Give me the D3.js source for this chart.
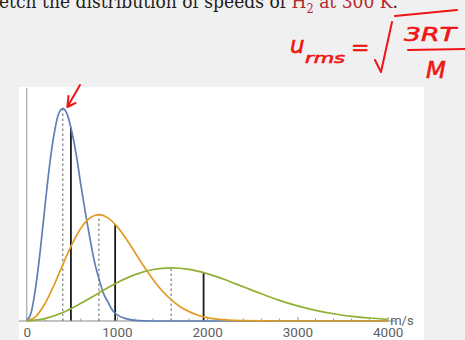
<!DOCTYPE html>
<html>
<head>
<meta charset="utf-8">
<script src="https://cdn.jsdelivr.net/npm/d3@7"></script>
<style>
  body { margin: 0; background: #f0f0f0; }
  svg { display: block; }
</style>
</head>
<body>
<div id="chart"></div>
<script>
// Speeds in m/s, densities relative to the tallest peak
var speedsBlue = [0, 50, 100, 150, 200, 250, 300, 350, 400, 450, 500, 550, 600, 650, 700, 750, 800, 850, 900, 950, 1000, 1100, 1200, 1400, 4000];
var densBlue = [0, 0.04, 0.16, 0.33, 0.53, 0.72, 0.87, 0.97, 1.0, 0.97, 0.89, 0.78, 0.64, 0.51, 0.39, 0.28, 0.2, 0.13, 0.09, 0.05, 0.03, 0.011, 0.003, 0, 0];

var speedsOrange = [0, 100, 200, 300, 400, 500, 600, 700, 800, 900, 1000, 1100, 1200, 1300, 1400, 1500, 1600, 1700, 1800, 1900, 2000, 2200, 2400, 2800, 4000];
var densOrange = [0, 0.021, 0.08, 0.166, 0.265, 0.359, 0.436, 0.484, 0.5, 0.485, 0.445, 0.388, 0.322, 0.256, 0.195, 0.142, 0.1, 0.067, 0.044, 0.027, 0.016, 0.005, 0.0015, 0, 0];

var speedsGreen = [0, 200, 400, 600, 800, 1000, 1200, 1400, 1600, 1800, 2000, 2200, 2400, 2600, 2800, 3000, 3200, 3400, 3600, 3800, 4000];
var densGreen = [0, 0.011, 0.04, 0.083, 0.132, 0.18, 0.218, 0.242, 0.25, 0.243, 0.223, 0.194, 0.161, 0.128, 0.097, 0.071, 0.05, 0.034, 0.022, 0.014, 0.008];

// most probable speed (dashed) and rms speed (solid) with curve heights there
var probSpeeds = [400, 800, 1600];
var probHeights = [1.0, 0.5, 0.25];
var rmsSpeeds = [490, 980, 1960];
var rmsHeights = [0.91, 0.455, 0.228];

var xTicks = [0, 1000, 2000, 3000, 4000];
var minorTicks = d3.range(200, 4000, 200).filter(d => d % 1000 != 0);

var width = 465, height = 340;

var svg = d3.select("#chart").append("svg")
    .attr("width", width)
    .attr("height", height);

// white plot panel
svg.append("rect")
    .attr("x", 19).attr("y", 87)
    .attr("width", 405).attr("height", 253)
    .attr("fill", "#ffffff");

var x = d3.scaleLinear().domain([0, 4000]).range([26.7, 387.7]);
var y = d3.scaleLinear().domain([0, 1]).range([321, 108.3]);

// y axis line
svg.append("line")
    .attr("x1", x(0)).attr("x2", x(0))
    .attr("y1", 88).attr("y2", y(0))
    .attr("stroke", "#b4b4b4").attr("stroke-width", 1.5);

// vertical markers
svg.selectAll(".prob").data(probSpeeds).enter().append("line")
    .attr("class", "prob")
    .attr("x1", d => x(d)).attr("x2", d => x(d))
    .attr("y1", y(0)).attr("y2", (d, i) => y(probHeights[i]))
    .attr("stroke", "#666").attr("stroke-width", 1)
    .attr("stroke-dasharray", "2.5,2.5");

svg.selectAll(".rms").data(rmsSpeeds).enter().append("line")
    .attr("class", "rms")
    .attr("x1", d => x(d)).attr("x2", d => x(d))
    .attr("y1", y(0)).attr("y2", (d, i) => y(rmsHeights[i]))
    .attr("stroke", "#1a1a1a").attr("stroke-width", 1.8);

// x axis
var xAxis = d3.axisBottom(x).tickValues(xTicks).tickFormat(d3.format("d"))
    .tickSize(-4).tickPadding(6);
var gx = svg.append("g")
    .attr("transform", "translate(0," + y(0) + ")")
    .call(xAxis);
gx.select(".domain").remove();
gx.selectAll(".tick line").attr("stroke", "#999");
gx.selectAll(".tick text")
    .attr("fill", "#606060")
    .style("font-family", "Roboto, 'Open Sans', sans-serif")
    .style("font-size", "13.5px");
gx.selectAll(".minor").data(minorTicks).enter().append("line")
    .attr("class", "minor")
    .attr("x1", d => x(d)).attr("x2", d => x(d))
    .attr("y1", 0).attr("y2", -2.5)
    .attr("stroke", "#999");
gx.append("line")
    .attr("x1", 19).attr("x2", x(4080))
    .attr("y1", 0).attr("y2", 0)
    .attr("stroke", "#8a8a8a").attr("stroke-width", 1.2);
gx.append("text")
    .attr("x", x(4080) + 7).attr("y", 4)
    .attr("fill", "#606060")
    .style("font-family", "Roboto, 'Open Sans', sans-serif")
    .style("font-size", "13px")
    .text("m/s");

// curves
var line = d3.line()
    .x(d => x(d[0]))
    .y(d => y(d[1]))
    .curve(d3.curveMonotoneX);

var series = [
    {speeds: speedsBlue, dens: densBlue, color: "#5e81b5"},
    {speeds: speedsOrange, dens: densOrange, color: "#e19c24"},
    {speeds: speedsGreen, dens: densGreen, color: "#8fb032"}
];

series.forEach(s => {
    svg.append("path")
        .datum(d3.zip(s.speeds, s.dens))
        .attr("fill", "none")
        .attr("stroke", s.color)
        .attr("stroke-width", 1.7)
        .attr("d", line);
});

// heading cut from the slide
var title = svg.append("text")
    .attr("x", -1).attr("y", 8)
    .attr("textLength", 399)
    .attr("lengthAdjust", "spacingAndGlyphs")
    .style("font-family", "'DejaVu Serif', serif")
    .style("font-size", "18px")
    .attr("fill", "#1e1e1e");
title.append("tspan").text("etch the distribution of speeds of ");
title.append("tspan").attr("fill", "#b3282d").text("H");
title.append("tspan").attr("fill", "#b3282d").attr("dy", 5).style("font-size", "12px").text("2");
title.append("tspan").attr("fill", "#b3282d").attr("dy", -5).text(" at 300 K");
title.append("tspan").text(".");

// handwritten notes
var red = "#f01414";
var hand = svg.append("g")
    .attr("fill", red)
    .attr("stroke", red)
    .attr("stroke-width", 0.6)
    .style("font-family", "'DejaVu Sans', sans-serif")
    .style("font-style", "italic");
hand.append("text").attr("x", 290).attr("y", 53).style("font-size", "23px").text("u");
hand.append("text").attr("x", 305).attr("y", 63).attr("textLength", 40)
    .attr("lengthAdjust", "spacingAndGlyphs").style("font-size", "14px").text("rms");
hand.append("text").attr("x", 351).attr("y", 55).style("font-size", "22px").text("=");
hand.append("text").attr("x", 404).attr("y", 41).attr("textLength", 52)
    .attr("lengthAdjust", "spacingAndGlyphs").style("font-size", "19px").text("3RT");
hand.append("text").attr("x", 426).attr("y", 78).style("font-size", "23px").text("M");

svg.append("path")
    .attr("d", "M375,60 L381,72 L392,22 M395,16 L457,10 M408,50 L465,49")
    .attr("fill", "none")
    .attr("stroke", red)
    .attr("stroke-width", 2)
    .attr("stroke-linecap", "round")
    .attr("stroke-linejoin", "round");

// arrow to the blue peak
svg.append("path")
    .attr("d", "M80,85 L67.3,107 M68.5,96 L67.3,107 L75.5,103")
    .attr("fill", "none")
    .attr("stroke", red)
    .attr("stroke-width", 2)
    .attr("stroke-linecap", "round")
    .attr("stroke-linejoin", "round");
</script>
</body>
</html>
